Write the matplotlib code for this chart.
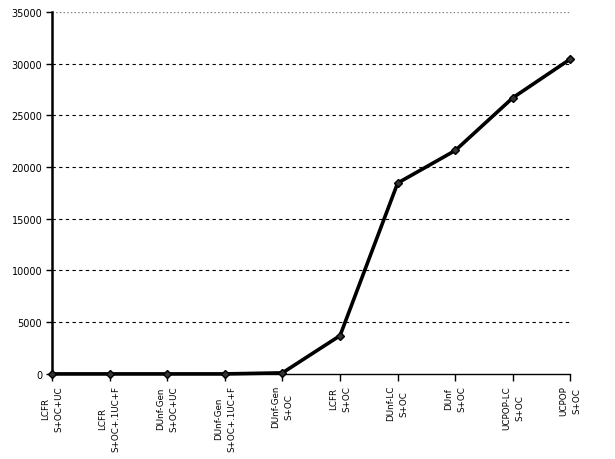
import numpy as np
import matplotlib.pyplot as plt

# planner configurations and their values
labels = ['LCFR\nS+OC+UC', 'LCFR\nS+OC+.1UC+F', 'DUnf-Gen\nS+OC+UC',
          'DUnf-Gen\nS+OC+.1UC+F', 'DUnf-Gen\nS+OC', 'LCFR\nS+OC',
          'DUnf-LC\nS+OC', 'DUnf\nS+OC', 'UCPOP-LC\nS+OC', 'UCPOP\nS+OC']
values = [0, 0, 0, 0, 100, 3700, 18450, 21600, 26700, 30450]
yticks = [0, 5000, 10000, 15000, 20000, 25000, 30000, 35000]

x = np.arange(len(labels))

fig = plt.figure(figsize=(6.15, 4.60), dpi=100)
ax = fig.add_axes([0.0846, 0.185, 0.843, 0.787])

# dashed grid lines (top one is the light plot border)
for t in yticks[1:-1]:
    ax.axhline(t, color='black', linestyle=(0, (3, 3)), linewidth=0.8, zorder=1)
ax.axhline(yticks[-1], color='gray', linestyle=':', linewidth=1, zorder=1)

ax.plot(x, values, color='black', linewidth=2.6, marker='D', markersize=4.5,
        markerfacecolor='#333333', markeredgecolor='black', zorder=3,
        clip_on=False)

ax.set_xlim(0, len(labels) - 1)
ax.set_ylim(0, 35000)
ax.set_yticks(yticks)
ax.set_yticklabels([str(t) for t in yticks], fontsize=7)
ax.set_xticks(x)
ax.set_xticklabels(labels, rotation=90, fontsize=6.3, ha='center', va='top',
                   multialignment='center', linespacing=1.6)

ax.spines['top'].set_visible(False)
ax.spines['right'].set_visible(False)
ax.spines['left'].set_linewidth(1.8)
ax.spines['bottom'].set_linewidth(1.0)
ax.tick_params(axis='y', direction='out', length=4, width=1, pad=3)
ax.tick_params(axis='x', direction='out', length=5, width=1, pad=3)

fig.savefig('out.png', dpi=100)
